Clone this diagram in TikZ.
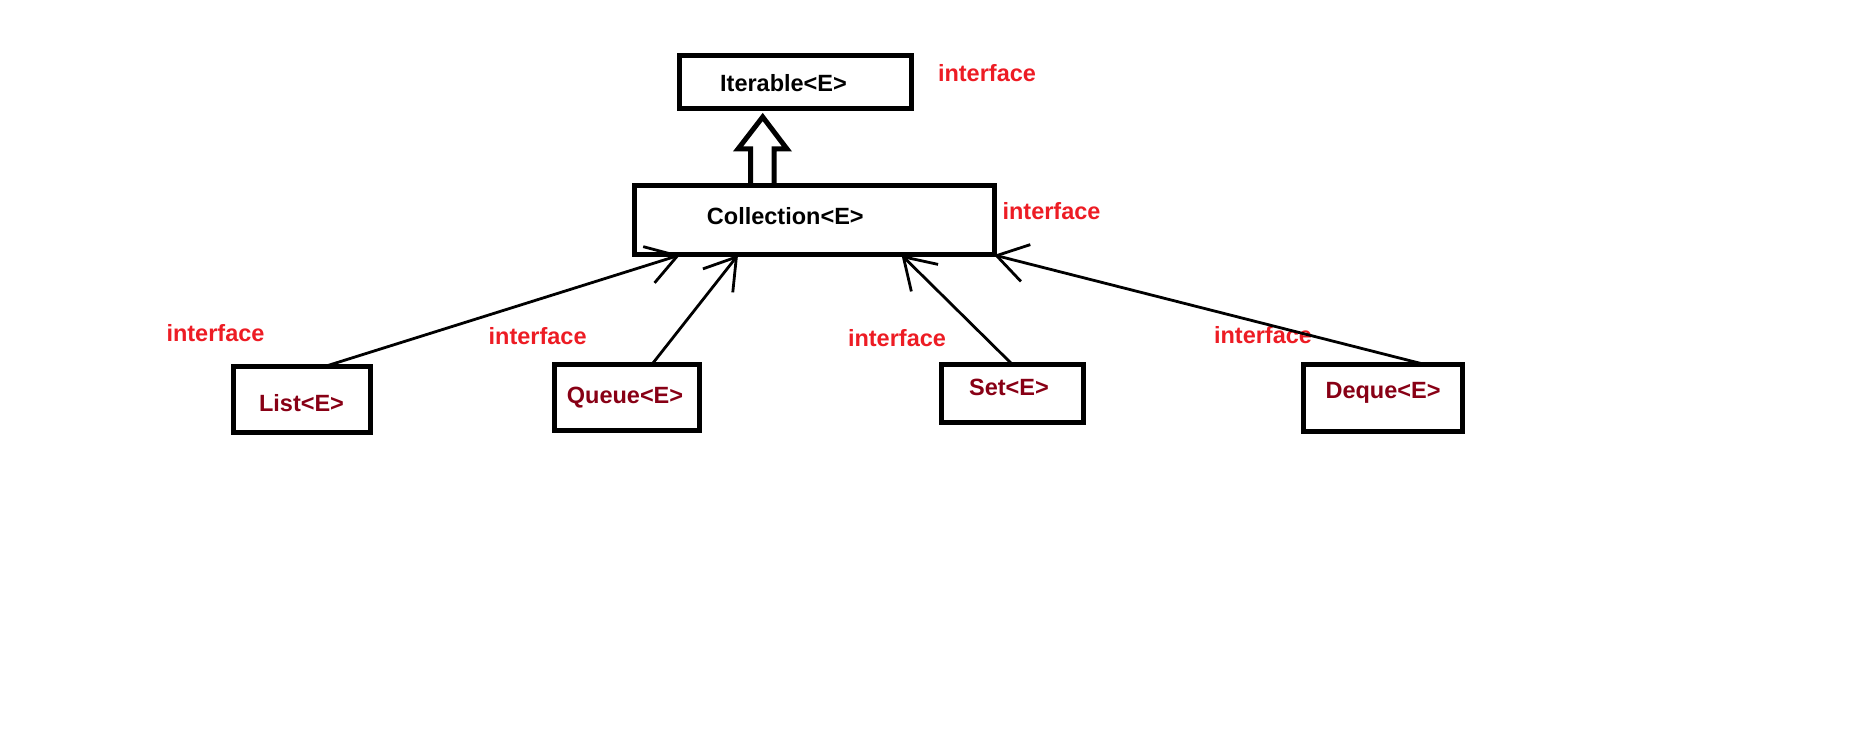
\documentclass[tikz,border=0pt]{standalone}
\usepackage{fontspec}
\setmainfont{Liberation Sans}
\usetikzlibrary{arrows.meta,calc}
\definecolor{paintred}{HTML}{ED1C24}
\definecolor{paintdark}{HTML}{880015}
\tikzset{
  treefont/.style = {font=\fontsize{23.5}{28}\selectfont\bfseries},
  iface_box/.style = {rectangle, draw=black, line width=5pt, inner sep=0pt, outer sep=0pt},
  iface_name/.style = {treefont, anchor=base, inner sep=0pt},
  sub_name/.style = {iface_name, text=paintdark},
  kind_lbl/.style = {treefont, anchor=base, inner sep=0pt, text=paintred},
  extends/.style = {draw=black, line width=2.8pt, -{Straight Barb[length=30pt,width=38pt]}},
  hollow_up/.style = {draw=black, line width=5pt, line join=miter}
}

\begin{document}
\begin{tikzpicture}[x=1pt, y=-1pt]
\useasboundingbox (0,0) rectangle (1852,743);
% boxes
\node [iface_box, minimum width=231.5pt, minimum height=53.2pt] (iter) at (795.3,82.1) {};
\node [iface_box, minimum width=360pt, minimum height=69pt] (coll) at (814,220.5) {};
\node [iface_box, minimum width=136.7pt, minimum height=66.4pt] (list) at (302.3,399.5) {};
\node [iface_box, minimum width=145.4pt, minimum height=66.4pt] (queue) at (627,397.5) {};
\node [iface_box, minimum width=141.3pt, minimum height=58pt] (set) at (1012.6,393.7) {};
\node [iface_box, minimum width=158.9pt, minimum height=67pt] (deque) at (1382.7,398.2) {};
% type names
\node [iface_name] (iter_t) at (783.5,91.7) {Iterable<E>};
\node [iface_name] (coll_t) at (785.3,225) {Collection<E>};
\node [sub_name] (list_t) at (301.5,411) {List<E>};
\node [sub_name] (queue_t) at (625,403.3) {Queue<E>};
\node [sub_name] (set_t) at (1009,395.5) {Set<E>};
\node [sub_name] (deque_t) at (1383,398) {Deque<E>};
% interface labels
\node [kind_lbl] (k_iter) at (987,82) {interface};
\node [kind_lbl] (k_coll) at (1051.5,220) {interface};
\node [kind_lbl] (k_list) at (215.5,341.5) {interface};
\node [kind_lbl] (k_queue) at (537.6,344) {interface};
\node [kind_lbl] (k_set) at (897,346.5) {interface};
\node [kind_lbl] (k_deque) at (1263,343) {interface};
% Collection extends Iterable
\draw [hollow_up] ([xshift=-63.5pt]coll.north) -- ++(0,-37) -- ++(-12.5,0)
  -- ([xshift=-32.6pt,yshift=-8.3pt]iter.south) -- ++(24.3,32) -- ++(-13,0) -- ++(0,37);
% sub interfaces
\draw [extends] ([xshift=23pt]list.north) -- ([xshift=-134pt]coll.south);
\draw [extends] ([xshift=25pt]queue.north) -- ([xshift=-76pt]coll.south);
\draw [extends] (set.north) -- ([xshift=87.5pt]coll.south);
\draw [extends] ([xshift=43pt]deque.north) -- (coll.south east);
\end{tikzpicture}
\end{document}
